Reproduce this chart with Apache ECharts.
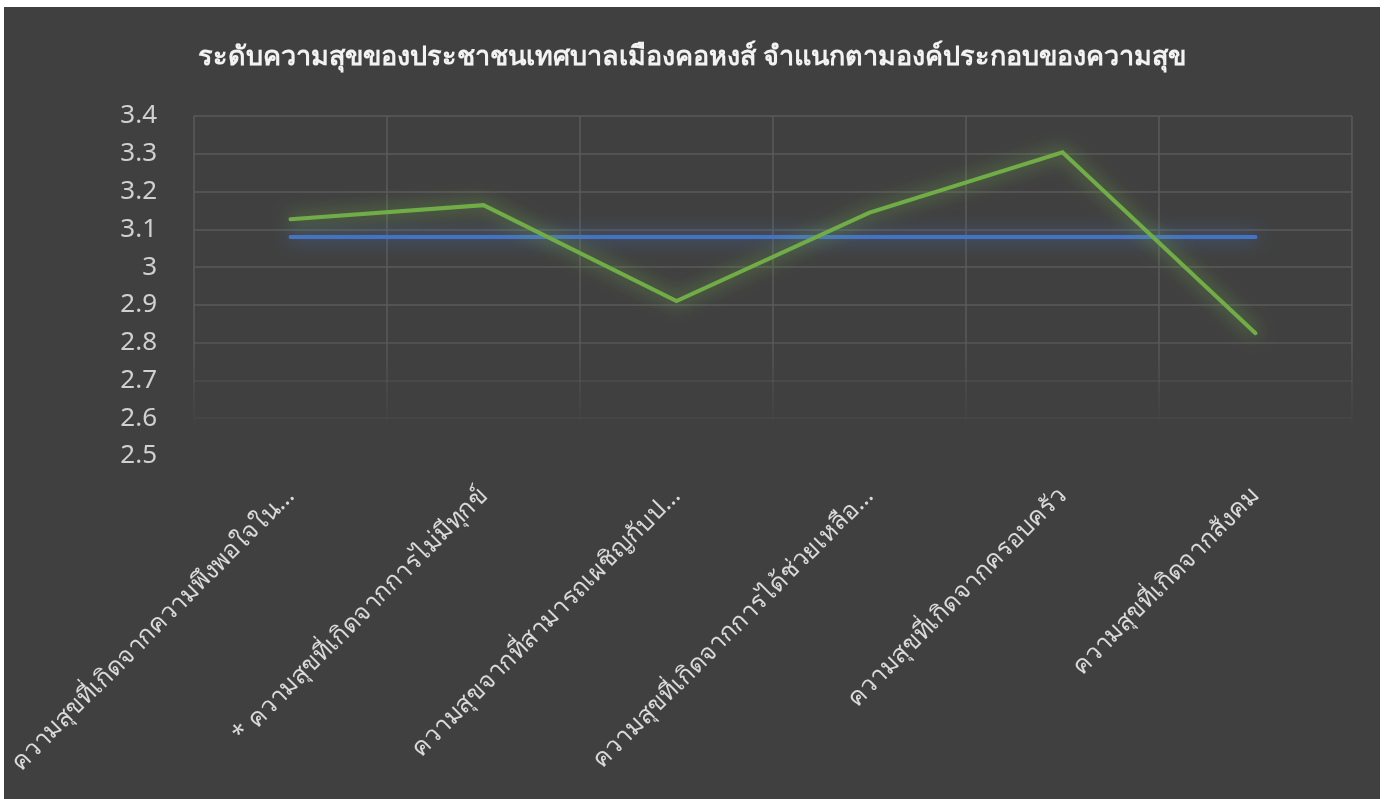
<!DOCTYPE html>
<html>
<head>
<meta charset="utf-8">
<script src="https://cdn.jsdelivr.net/npm/echarts@6/dist/echarts.min.js"></script>
<style>
  html, body { margin: 0; padding: 0; background: #ffffff; }
  #chart-container { position: absolute; left: 4px; top: 7px; width: 1376px; height: 792px; background: #404040; }
</style>
</head>
<body>
<div id="chart-container"></div>
<script>
var titleText = 'ระดับความสุขของประชาชนเทศบาลเมืองคอหงส์ จำแนกตามองค์ประกอบของความสุข';
var categories = [
    'ความสุขที่เกิดจากความพึงพอใจใน…',
    '* ความสุขที่เกิดจากการไม่มีทุกข์',
    'ความสุขจากที่สามารถเผชิญกับป…',
    'ความสุขที่เกิดจากการได้ช่วยเหลือ…',
    'ความสุขที่เกิดจากครอบครัว',
    'ความสุขที่เกิดจากสังคม'
];
var happiness = [3.127, 3.164, 2.91, 3.144, 3.304, 2.825];
var average = [3.08, 3.08, 3.08, 3.08, 3.08, 3.08];

var myChart = echarts.init(document.getElementById('chart-container'));

// horizontal grid lines fade out toward the bottom (index 0 = 2.5)
var hLineColors = [
    'rgba(90,90,90,0)', 'rgba(90,90,90,0.25)', 'rgba(90,90,90,0.55)', 'rgba(90,90,90,0.85)',
    '#5a5a5a', '#5a5a5a', '#5a5a5a', '#5a5a5a', '#5a5a5a', '#5a5a5a'
];

var option = {
    backgroundColor: '#404040',
    title: {
        text: titleText,
        left: 'center',
        top: 32,
        textStyle: {
            color: '#f2f2f2',
            fontSize: 27,
            fontWeight: 'bold',
            fontFamily: 'Noto Sans, sans-serif'
        }
    },
    grid: {
        left: 190,
        right: 28,
        top: 109,
        bottom: 343
    },
    xAxis: {
        type: 'category',
        data: categories,
        boundaryGap: true,
        axisLine: { show: false },
        axisTick: { show: false },
        axisLabel: {
            rotate: 45,
            interval: 0,
            margin: 36,
            color: '#d9d9d9',
            fontSize: 25,
            fontFamily: 'Noto Sans, sans-serif'
        },
        splitLine: {
            show: true,
            interval: function () { return true; },
            lineStyle: {
                width: 1.5,
                color: new echarts.graphic.LinearGradient(0, 109, 0, 449, [
                    { offset: 0, color: 'rgba(90,90,90,1)' },
                    { offset: 0.65, color: 'rgba(90,90,90,1)' },
                    { offset: 0.92, color: 'rgba(90,90,90,0)' },
                    { offset: 1, color: 'rgba(90,90,90,0)' }
                ], true)
            }
        }
    },
    yAxis: {
        type: 'value',
        min: 2.5,
        max: 3.4,
        interval: 0.1,
        axisLine: { show: false },
        axisTick: { show: false },
        axisLabel: {
            margin: 37,
            color: '#d0d0d0',
            fontSize: 26,
            fontFamily: 'Noto Sans, sans-serif',
            formatter: function (v) { return String(Math.round(v * 10) / 10); }
        },
        splitLine: {
            lineStyle: { width: 1.5, color: hLineColors }
        }
    },
    series: [
        {
            name: 'ระดับความสุข',
            type: 'line',
            data: happiness,
            symbol: 'none',
            lineStyle: {
                color: '#70ad47',
                width: 4,
                cap: 'round',
                join: 'miter',
                shadowColor: 'rgba(112,173,71,1)',
                shadowBlur: 18
            },
            z: 3
        },
        {
            name: 'ค่าเฉลี่ย',
            type: 'line',
            data: average,
            symbol: 'none',
            lineStyle: {
                color: '#4472c4',
                width: 4,
                cap: 'round',
                shadowColor: 'rgba(68,114,196,1)',
                shadowBlur: 18
            },
            z: 2
        }
    ]
};

myChart.setOption(option);
</script>
</body>
</html>
